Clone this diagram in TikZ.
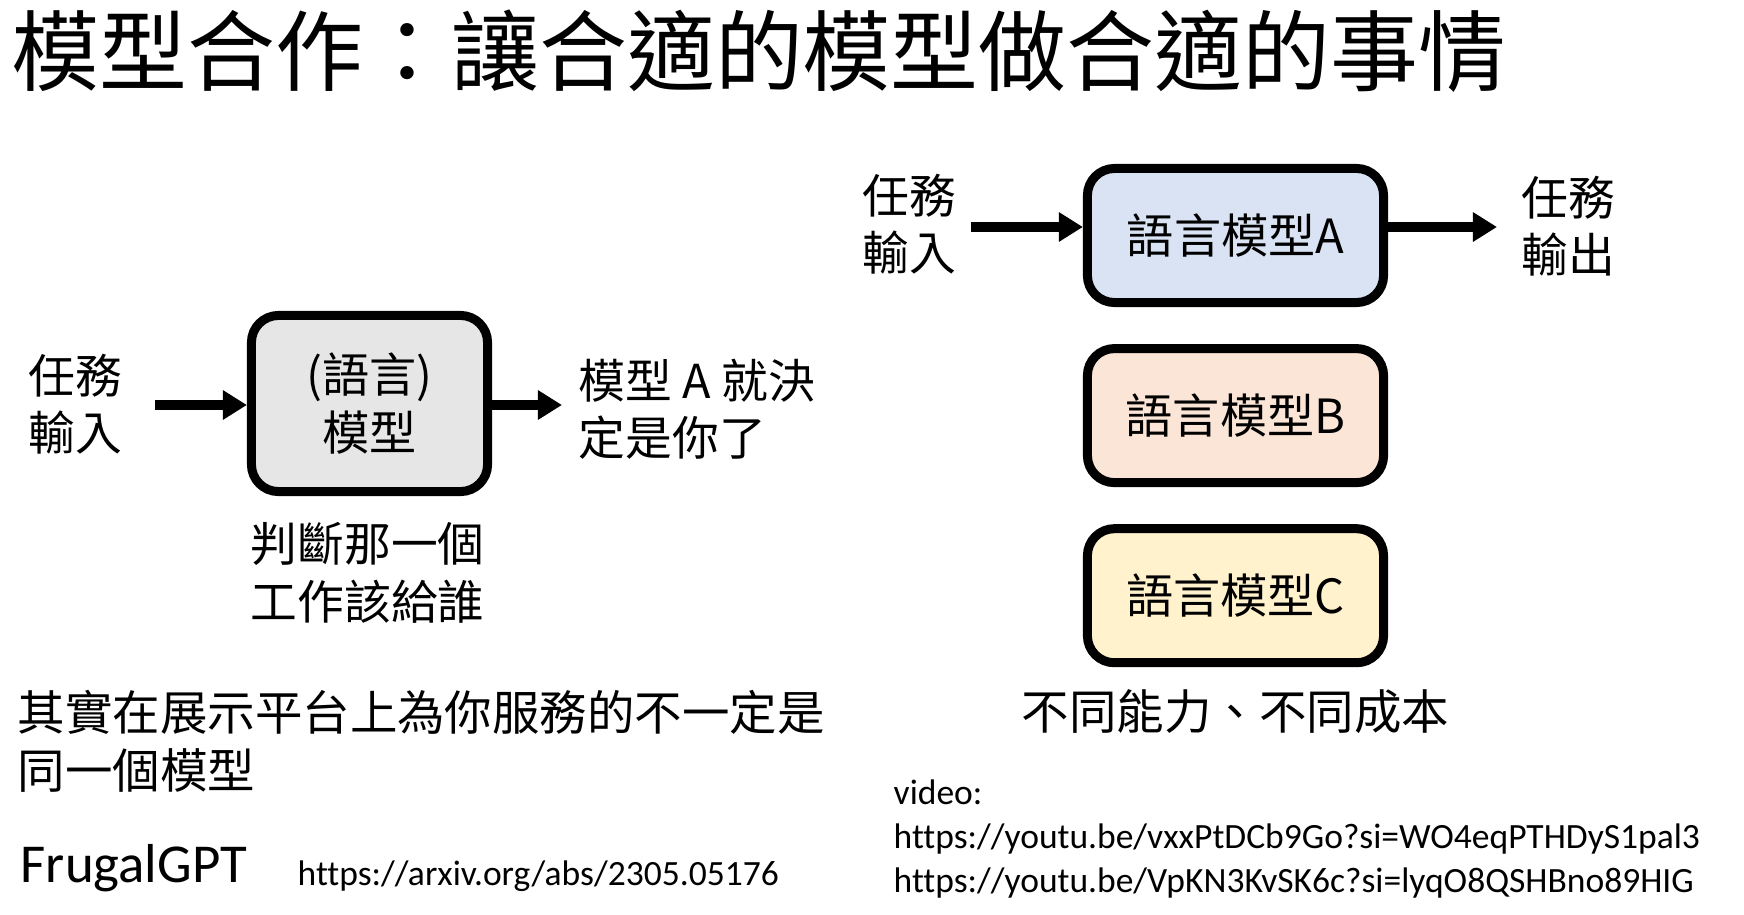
\documentclass[tikz,border=0pt]{standalone}
\usepackage{fontspec}
\setmainfont{Noto Sans CJK TC}
\newfontfamily\lat[Ligatures=NoCommon]{Carlito}
\usepackage{tikz}
\usetikzlibrary{arrows.meta,positioning}

\definecolor{boxgray}{HTML}{E7E6E6}
\definecolor{boxblue}{HTML}{DAE3F3}
\definecolor{boxpeach}{HTML}{FBE5D6}
\definecolor{boxyellow}{HTML}{FFF2CC}

\begin{document}
\begin{tikzpicture}[
  x=0.01cm, y=-0.01cm,
  mdl/.style={draw, line width=2.56pt, rounded corners=0.27cm, inner sep=0pt, align=center, font=\fontsize{13.4pt}{16.4pt}\selectfont},
  txt/.style={inner sep=0pt, anchor=west, align=left, font=\fontsize{13.3pt}{16.3pt}\selectfont},
  link/.style={txt, font=\lat\fontsize{10.1pt}{12.4pt}\selectfont},
  flow/.style={line width=2.6pt, -{Triangle[length=0.24cm, width=0.28cm]}}
]
\useasboundingbox (0,0) rectangle (1744,915);

% --- Title ---
\node[txt, font=\fontsize{25pt}{30pt}\selectfont] (title) at (11,51) {模型合作：讓合適的模型做合適的事情};

% --- Left: one model routes the task ---
\node[mdl, fill=boxgray, minimum width=2.36cm, minimum height=1.76cm] (router) at (369.5,403.5) {(語言)\\模型};
\node[txt] (inL) at (28,404) {任務\\輸入};
\node[txt] (outL) at (578,409) {模型 A 就決\\定是你了};
\node[txt] (judge) at (250,573) {判斷那一個\\工作該給誰};
\node[txt, font=\fontsize{13.5pt}{16.5pt}\selectfont] (note) at (17,741) {其實在展示平台上為你服務的不一定是\\同一個模型};

% --- Right: candidate models ---
\node[mdl, fill=boxblue, minimum width=2.96cm, minimum height=1.34cm] (mA) at (1235.5,235.5) {語言模型A};
\node[mdl, fill=boxpeach, minimum width=2.96cm, minimum height=1.34cm, below=0.37cm of mA] (mB) {語言模型B};
\node[mdl, fill=boxyellow, minimum width=2.96cm, minimum height=1.34cm, below=0.37cm of mB] (mC) {語言模型C};
\node[txt] (inR) at (862,224) {任務\\輸入};
\node[txt] (outR) at (1521,226) {任務\\輸出};
\node[txt, font=\fontsize{13.5pt}{16.5pt}\selectfont] (cost) at (1021,712) {不同能力、不同成本};

% --- References ---
\node[txt, font=\lat\fontsize{15.6pt}{19pt}\selectfont] (paper) at (20,868) {FrugalGPT};
\node[link] (arxiv) at (297,876) {https://arxiv.org/abs/2305.05176};
\node[link] (video) at (893,839) {video:\\https://youtu.be/vxxPtDCb9Go?si=WO4eqPTHDyS1pal3\\https://youtu.be/VpKN3KvSK6c?si=lyqO8QSHBno89HIG};

% Arrows
\coordinate (inLtail) at (155,405);
\coordinate (outLtip) at (562,405);
\coordinate (inRtail) at (971,227);
\coordinate (outRtip) at (1497,227);
\draw[flow] (inLtail) -- (inLtail -| router.west);
\draw[flow] (router.east |- outLtip) -- (outLtip);
\draw[flow] (inRtail) -- (inRtail -| mA.west);
\draw[flow] (mA.east |- outRtip) -- (outRtip);
\end{tikzpicture}
\end{document}
